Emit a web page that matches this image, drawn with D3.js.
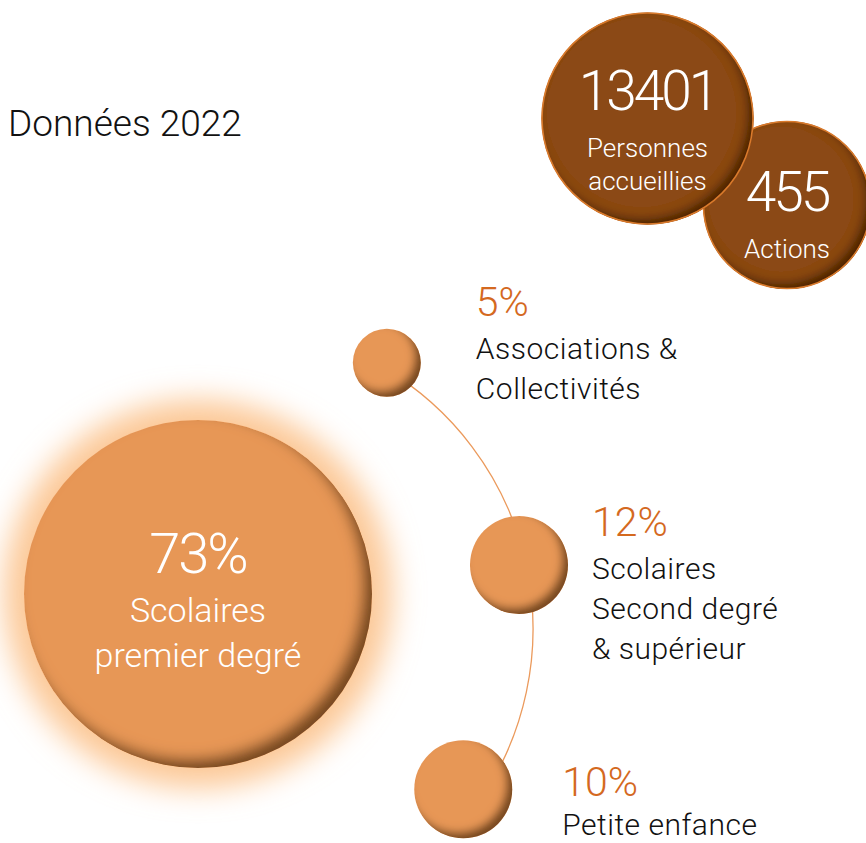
<!DOCTYPE html>
<html>
<head>
<meta charset="utf-8">
<script src="https://cdn.jsdelivr.net/npm/d3@7"></script>
<style>
    html, body { margin: 0; padding: 0; background: #fff; }
    svg { display: block; font-family: Roboto, "Noto Sans", sans-serif; }
</style>
</head>
<body>
<div id="chart"></div>
<script>

// data: 2022 key figures
var title = "Données 2022";
var headlineValues = [13401, 455];
var headlineLabels = [["Personnes", "accueillies"], ["Actions"]];

var categories = ["Scolaires premier degré", "Associations & Collectivités",
    "Scolaires Second degré & supérieur", "Petite enfance"];
var shares = [73, 5, 12, 10];
var categoryLines = [["Scolaires", "premier degré"], ["Associations &", "Collectivités"],
    ["Scolaires", "Second degré", "& supérieur"], ["Petite enfance"]];

// colours
var orange = "#e79757",
    orangeText = "#d4691f",
    brown = "#8b4816",
    brownStroke = "#d97a2c";

var width = 866,
    height = 843;

var svg = d3.select("#chart")
    .append("svg")
    .attr("width", width)
    .attr("height", height);

var defs = svg.append("defs");

// inner shadow on the bottom right edge of a disc
function insetShadow(id, d, blur, color, opacity) {
    var f = defs.append("filter").attr("id", id)
        .attr("x", "-10%").attr("y", "-10%")
        .attr("width", "120%").attr("height", "120%");
    f.append("feOffset").attr("in", "SourceAlpha")
        .attr("dx", -d).attr("dy", -d).attr("result", "off");
    f.append("feGaussianBlur").attr("in", "off")
        .attr("stdDeviation", blur).attr("result", "offBlur");
    f.append("feComposite").attr("in", "SourceAlpha").attr("in2", "offBlur")
        .attr("operator", "arithmetic").attr("k2", 1).attr("k3", -1)
        .attr("result", "crescent");
    f.append("feFlood").attr("flood-color", color)
        .attr("flood-opacity", opacity).attr("result", "col");
    f.append("feComposite").attr("in", "col").attr("in2", "crescent")
        .attr("operator", "in").attr("result", "shadow");
    var m = f.append("feMerge");
    m.append("feMergeNode").attr("in", "SourceGraphic");
    m.append("feMergeNode").attr("in", "shadow");
}
insetShadow("shadowBig", 9, 7, "#4a2608", 0.85);
insetShadow("shadowSmall", 6, 4, "#4a2608", 0.85);
insetShadow("shadowBrown", 6, 5, "#2e1300", 0.8);

defs.append("filter").attr("id", "glow")
    .attr("x", "-40%").attr("y", "-40%")
    .attr("width", "180%").attr("height", "180%")
    .append("feGaussianBlur").attr("stdDeviation", 15);

// title
svg.append("text")
    .attr("x", 8)
    .attr("y", 136)
    .attr("font-size", 37)
    .attr("font-weight", 300)
    .attr("fill", "#111")
    .text(title);

// ---------- headline figures (brown discs) ----------
var headlineRadius = d3.scaleThreshold().domain([1000]).range([84, 106]);
var headlineLayout = [
    {cx: 647.5, cy: 118.5, valueDy: -8.5, labelDy: [38.5, 71.5]},
    {cx: 787, cy: 205, valueDy: 6, labelDy: [53]}
];
var headlines = headlineValues.map(function(v, i) {
    return {value: v, lines: headlineLabels[i], pos: headlineLayout[i]};
});

// smaller figure drawn first, so the big one overlaps it
var heads = svg.append("g").selectAll("g")
    .data(headlines.slice().reverse())
    .enter().append("g")
    .attr("transform", function(d) { return "translate(" + d.pos.cx + "," + d.pos.cy + ")"; });

heads.append("circle")
    .attr("r", function(d) { return headlineRadius(d.value); })
    .attr("fill", brown)
    .attr("filter", "url(#shadowBrown)");
heads.append("circle")
    .attr("r", function(d) { return headlineRadius(d.value) - 0.5; })
    .attr("fill", "none")
    .attr("stroke", brownStroke)
    .attr("stroke-width", 1.6);

heads.append("text")
    .attr("text-anchor", "middle")
    .attr("y", function(d) { return d.pos.valueDy; })
    .attr("font-size", 55)
    .attr("font-weight", 300)
    .attr("letter-spacing", -3)
    .attr("fill", "#fff")
    .text(function(d) { return d.value; });

heads.each(function(d) {
    d3.select(this).selectAll("text.lbl")
        .data(d.lines)
        .enter().append("text")
        .attr("class", "lbl")
        .attr("text-anchor", "middle")
        .attr("y", function(t, i) { return d.pos.labelDy[i]; })
        .attr("font-size", 26)
        .attr("font-weight", 300)
        .attr("fill", "#fff")
        .text(function(t) { return t; });
});

// ---------- shares ----------
var items = categories.map(function(c, i) {
    return {name: c, share: shares[i], lines: categoryLines[i]};
});
var main = items[0];
var others = items.slice(1);

// discs come in size classes rather than strict proportion
var shareRadius = d3.scaleThreshold().domain([8, 50]).range([34, 49, 174]);

// the three small discs sit along an arc
var arcCx = 230, arcCy = 629, arcR = 303;
var angle = d3.scalePoint()
    .domain(others.map(function(d) { return d.name; }))
    .range([-59.5, 34.5]);
var radial = d3.scaleLinear().domain([-59.5, 34.5]).range([309, 283]);
var rad = Math.PI / 180;

others.forEach(function(d) {
    var a = angle(d.name);
    d.x = arcCx + radial(a) * Math.cos(a * rad);
    d.y = arcCy + radial(a) * Math.sin(a * rad);
});
main.x = 198;
main.y = 594;

// glow behind the main disc
svg.append("circle")
    .attr("cx", main.x)
    .attr("cy", main.y)
    .attr("r", shareRadius(main.share) + 20)
    .attr("fill", "#fcc896")
    .attr("filter", "url(#glow)");

// connector arc
var p = d3.path();
p.arc(arcCx, arcCy, arcR, angle.range()[0] * rad, angle.range()[1] * rad);
svg.append("path")
    .attr("d", p.toString())
    .attr("fill", "none")
    .attr("stroke", "#eb9a5c")
    .attr("stroke-width", 1.3);

// main disc
svg.append("circle")
    .attr("cx", main.x)
    .attr("cy", main.y)
    .attr("r", shareRadius(main.share))
    .attr("fill", orange)
    .attr("filter", "url(#shadowBig)");

svg.append("text")
    .attr("x", main.x)
    .attr("y", main.y - 21)
    .attr("text-anchor", "middle")
    .attr("font-size", 56)
    .attr("font-weight", 300)
    .attr("letter-spacing", -2)
    .attr("fill", "#fff")
    .text(main.share + "%");

svg.append("g").selectAll("text")
    .data(main.lines)
    .enter().append("text")
    .attr("x", main.x)
    .attr("y", function(t, i) { return main.y + 28 + i * 45; })
    .attr("text-anchor", "middle")
    .attr("font-size", 34)
    .attr("font-weight", 300)
    .attr("fill", "#fff")
    .text(function(t) { return t; });

// small discs
svg.append("g").selectAll("circle")
    .data(others)
    .enter().append("circle")
    .attr("cx", function(d) { return d.x; })
    .attr("cy", function(d) { return d.y; })
    .attr("r", function(d) { return shareRadius(d.share); })
    .attr("fill", orange)
    .attr("filter", "url(#shadowSmall)");

// labels beside the small discs (last one tucked in to stay on the page)
var labelOffsets = [{dx: 89, dy: -47, gap: 43}, {dx: 73, dy: -29, gap: 43}, {dx: 99, dy: 7, gap: 39}];
var labels = svg.append("g").selectAll("g")
    .data(others)
    .enter().append("g")
    .attr("transform", function(d, i) {
        return "translate(" + (d.x + labelOffsets[i].dx) + "," + (d.y + labelOffsets[i].dy) + ")";
    });

labels.append("text")
    .attr("font-size", 41)
    .attr("font-weight", 300)
    .attr("fill", orangeText)
    .text(function(d) { return d.share + "%"; });

labels.each(function(d, k) {
    d3.select(this).selectAll("text.lbl")
        .data(d.lines)
        .enter().append("text")
        .attr("class", "lbl")
        .attr("y", function(t, i) { return labelOffsets[k].gap + i * 40; })
        .attr("font-size", 30)
        .attr("font-weight", 300)
        .attr("letter-spacing", 0.5)
        .attr("fill", "#111")
        .text(function(t) { return t; });
});

</script>
</body>
</html>
